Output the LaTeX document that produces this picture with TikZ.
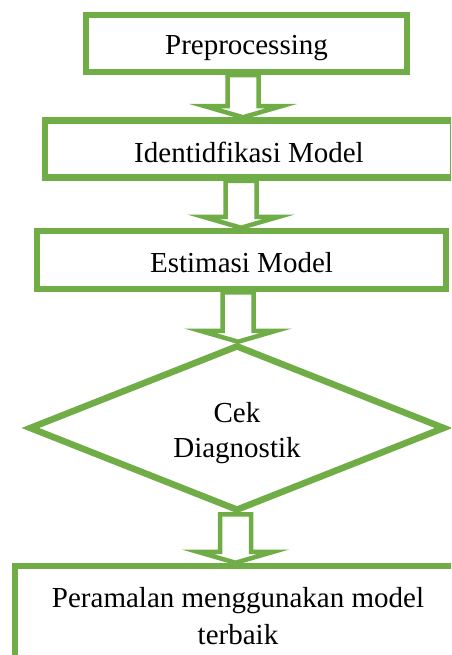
\documentclass[tikz,border=0pt]{standalone}
\usepackage{fontspec}
\setmainfont{Liberation Serif}
\usetikzlibrary{shapes.geometric,calc}
\definecolor{boxgreen}{RGB}{112,173,71}
\tikzset{
  flowbox/.style={draw=boxgreen, line width=6.5pt, rectangle, inner sep=0pt},
  decision/.style={draw=boxgreen, line width=6.5pt, diamond, aspect=2.5, inner sep=0pt},
  txt/.style={inner sep=0pt, align=center, font=\fontsize{29}{36}\selectfont, text=black},
  barrow/.style={draw=boxgreen, line width=4.5pt, fill=white, line join=miter}
}
\newcommand\blockarrow[2]{\draw[barrow] let \p1=(#1), \p2=(#2) in
  (\x2-15.5pt,\y1) -- (\x2-15.5pt,\y2+11pt) -- (\x2-38pt,\y2+11pt) -- (\x2,\y2)
  -- (\x2+38pt,\y2+11pt) -- (\x2+15.5pt,\y2+11pt) -- (\x2+15.5pt,\y1) -- cycle;}
\begin{document}
\begin{tikzpicture}[x=1pt,y=-1pt]
\useasboundingbox (0,0) rectangle (451,655);
\clip (0,0) rectangle (451,655);
\fill[white] (0,0) rectangle (451,655);
\node[flowbox, minimum width=321pt, minimum height=57pt] (pre) at (246.5,43.5) {};
\node[flowbox, minimum width=408pt, minimum height=57pt] (ide) at (249,149) {};
\node[flowbox, minimum width=409pt, minimum height=58pt] (est) at (241.5,260) {};
\node[decision, minimum width=416pt, minimum height=166pt] (cek) at (237,428) {};
\node[flowbox, minimum width=446pt, minimum height=101pt] (per) at (238,616.5) {};
\node[txt] (pret) at ($(pre.center)+(0,5)$) {Preprocessing};
\node[txt] (idet) at ($(ide.center)+(0,3)$) {Identidfikasi Model};
\node[txt] (estt) at ($(est.center)+(0,3)$) {Estimasi Model};
\node[txt, font=\fontsize{29}{35}\selectfont] (cekt) at ($(cek.center)+(0,5)$) {Cek\\Diagnostik};
\node[txt, font=\fontsize{29}{37}\selectfont] (pert) at ($(per.center)+(0,0)$) {Peramalan menggunakan model\\terbaik};
\coordinate (x1) at (243,0);
\coordinate (x2) at (241,0);
\coordinate (x3) at (238,0);
\coordinate (x4) at (235.5,0);
\blockarrow{pre.south -| x1}{ide.north -| x1}
\blockarrow{ide.south -| x2}{est.north -| x2}
\blockarrow{est.south -| x3}{cek.north -| x3}
\blockarrow{cek.south -| x4}{per.north -| x4}
\end{tikzpicture}
\end{document}
